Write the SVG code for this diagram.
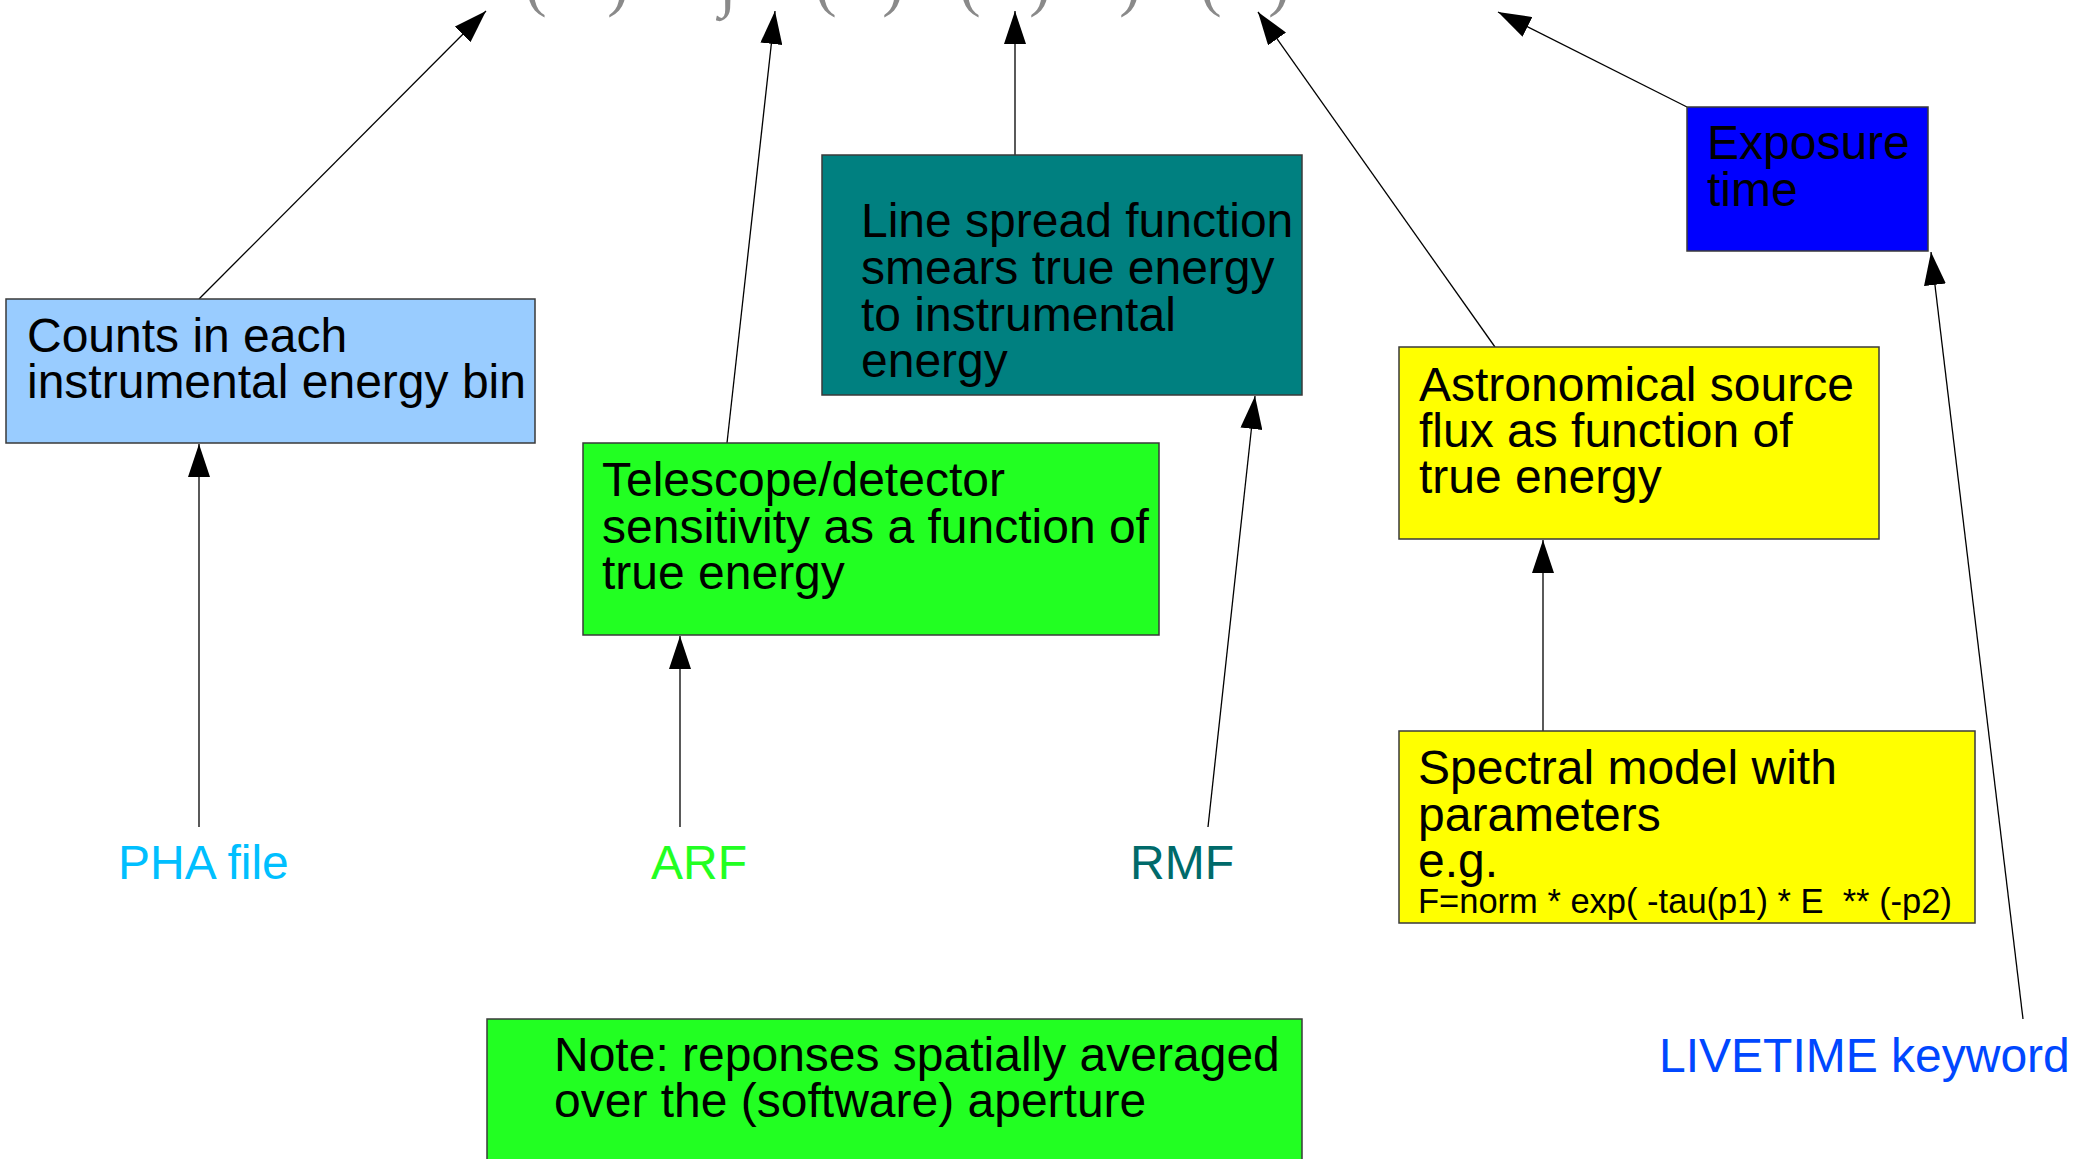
<svg xmlns="http://www.w3.org/2000/svg" width="2073" height="1159" viewBox="0 0 2073 1159">
<style>
.box{stroke:#3a3a3a;stroke-width:1.5}
.t{font-family:"Liberation Sans",Arial,sans-serif;font-size:48px;fill:#000}
.f{font-family:"Liberation Sans",Arial,sans-serif;font-size:34.5px;fill:#000;white-space:pre}
.lbl{font-family:"Liberation Sans",Arial,sans-serif;font-size:48px}
.frag{font-family:"Liberation Serif","Times New Roman",serif;font-size:64px;fill:#8a8a8a;text-anchor:middle}
.c{stroke:#000;stroke-width:1.3;fill:none;marker-end:url(#ah)}
</style>
<defs>
<marker id="ah" markerUnits="userSpaceOnUse" markerWidth="34" markerHeight="22" refX="33" refY="11" orient="auto">
<path d="M0,0 L33,11 L0,22 z" fill="#000"/>
</marker>
</defs>
<rect width="2073" height="1159" fill="#fff"/>
<g id="formula-fragments">
<text class="frag" y="4"><tspan x="536">(</tspan><tspan x="618">)</tspan><tspan x="826">(</tspan><tspan x="893">)</tspan><tspan x="970">(</tspan><tspan x="1040">)</tspan><tspan x="1130">)</tspan><tspan x="1211">(</tspan><tspan x="1279">)</tspan></text>
<text class="frag" x="728" y="4">∫</text>
</g>
<g id="connectors">
<line class="c" x1="199" y1="299" x2="486" y2="11"/>
<line class="c" x1="727" y1="443" x2="775" y2="11"/>
<line class="c" x1="1015" y1="155" x2="1015" y2="11"/>
<line class="c" x1="1495" y1="347" x2="1258" y2="12"/>
<line class="c" x1="1687" y1="107" x2="1498" y2="12"/>
<line class="c" x1="680" y1="827" x2="680" y2="636"/>
<line class="c" x1="199" y1="827" x2="199" y2="444"/>
<line class="c" x1="1208" y1="827" x2="1255" y2="396"/>
<line class="c" x1="1543" y1="731" x2="1543" y2="540"/>
<line class="c" x1="2023" y1="1019" x2="1931" y2="252"/>
</g>
<g id="counts">
<rect class="box" x="6" y="299" width="529" height="144" fill="#99ccff"/>
<text class="t"><tspan x="27" y="352">Counts in each</tspan><tspan x="27" y="398">instrumental energy bin</tspan></text>
</g>
<g id="lsf">
<rect class="box" x="822" y="155" width="480" height="240" fill="#008080"/>
<text class="t"><tspan x="861" y="237">Line spread function</tspan><tspan x="861" y="284">smears true energy</tspan><tspan x="861" y="331">to instrumental</tspan><tspan x="861" y="377">energy</tspan></text>
</g>
<g id="arf-box">
<rect class="box" x="583" y="443" width="576" height="192" fill="#22ff22"/>
<text class="t"><tspan x="602" y="496">Telescope/detector</tspan><tspan x="602" y="543">sensitivity as a function of</tspan><tspan x="602" y="589">true energy</tspan></text>
</g>
<g id="source-flux">
<rect class="box" x="1399" y="347" width="480" height="192" fill="#ffff00"/>
<text class="t"><tspan x="1419" y="401">Astronomical source</tspan><tspan x="1419" y="447">flux as function of</tspan><tspan x="1419" y="493">true energy</tspan></text>
</g>
<g id="exposure">
<rect class="box" x="1687" y="107" width="241" height="144" fill="#0000ff"/>
<text class="t"><tspan x="1707" y="159">Exposure</tspan><tspan x="1707" y="206">time</tspan></text>
</g>
<g id="spectral-model">
<rect class="box" x="1399" y="731" width="576" height="192" fill="#ffff00"/>
<text class="t"><tspan x="1418" y="784">Spectral model with</tspan><tspan x="1418" y="831">parameters</tspan><tspan x="1418" y="877">e.g.</tspan></text>
<text class="f" x="1418" y="913">F=norm * exp( -tau(p1) * E  ** (-p2)</text>
</g>
<g id="note">
<rect class="box" x="487" y="1019" width="815" height="160" fill="#22ff22"/>
<text class="t"><tspan x="554" y="1071">Note: reponses spatially averaged</tspan><tspan x="554" y="1117">over the (software) aperture</tspan></text>
</g>
<g id="pha-label"><text class="lbl" x="118" y="879" fill="#00bfff">PHA file</text></g>
<g id="arf-label"><text class="lbl" x="651" y="879" fill="#22ff22">ARF</text></g>
<g id="rmf-label"><text class="lbl" x="1130" y="879" fill="#006a6a">RMF</text></g>
<g id="livetime-label"><text class="lbl" x="1659" y="1072" fill="#0047ff">LIVETIME keyword</text></g>
</svg>
